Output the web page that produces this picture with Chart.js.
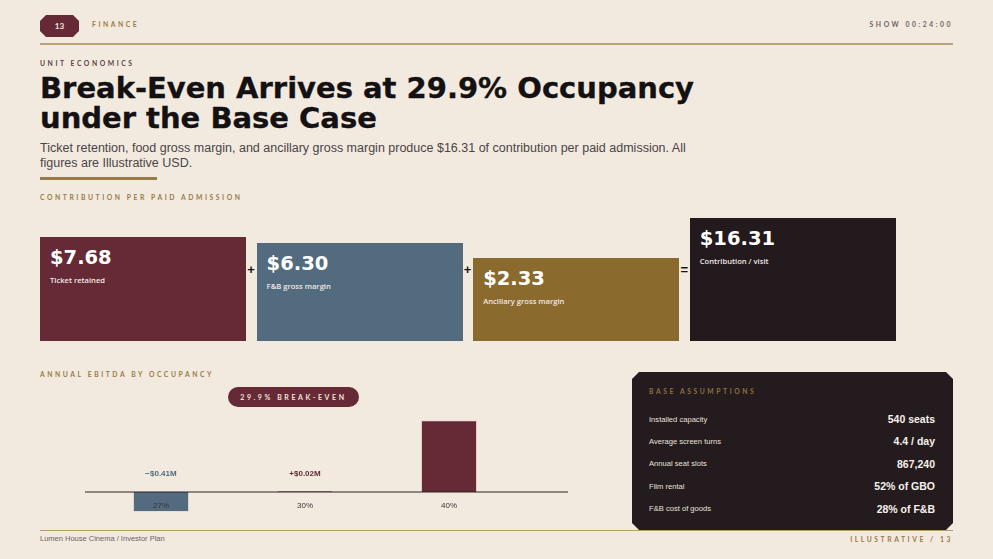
<!DOCTYPE html>
<html>
<head>
<meta charset="utf-8">
<script src="https://cdn.jsdelivr.net/npm/chart.js@4.4.1/dist/chart.umd.min.js"></script>
<style>
  html, body { margin: 0; padding: 0; }
  body { width: 993px; height: 559px; background: #f2eadf; position: relative; overflow: hidden; font-family: "Liberation Sans", Arial, sans-serif; }
  .abs { position: absolute; }
  .spaced { font-family: "Lato", "Open Sans", sans-serif; font-weight: 700; text-transform: uppercase; letter-spacing: 2.55px; font-size: 6.8px; color: #9a7b45; white-space: nowrap; }
  .badge { left: 40px; top: 15px; width: 39px; height: 22px; background: #652a35; color: #f3e6e0; font-size: 8px; font-weight: 700; font-family: "Lato", sans-serif; display: flex; align-items: center; justify-content: center;
    clip-path: polygon(6px 0, calc(100% - 6px) 0, 100% 6px, 100% calc(100% - 6px), calc(100% - 6px) 100%, 6px 100%, 0 calc(100% - 6px), 0 6px); }
  .rule { left: 40px; width: 913px; height: 2px; background: #bba47c; }
  .ttl { position: absolute; left: 40px; margin: 0; font-family: "DejaVu Sans", sans-serif; font-size: 29px; line-height: 28px; height: 28px; font-weight: 700; color: #141112; -webkit-text-stroke: 0.35px #141112; white-space: nowrap; }
  .sub { font-size: 12.5px; line-height: 15px; color: #4a4446; width: 660px; }
  .card { position: absolute; bottom: 218px; width: 206px; color: #fff; box-sizing: border-box; padding: 9px 10px; }
  .card .v { font-family: "DejaVu Sans", sans-serif; font-size: 19.5px; font-weight: 700; line-height: 24px; }
  .card .l { font-family: "Open Sans", sans-serif; font-weight: 600; font-size: 7.6px; margin-top: 5px; color: #f1e8e4; }
  .op { font-size: 13px; font-weight: 700; color: #1a1416; top: 262px; width: 11px; text-align: center; }
  .pill { left: 228px; top: 387px; width: 131px; height: 20px; border-radius: 10px; background: #652a35; color: #f3e4dc; display: flex; align-items: center; justify-content: center; font-family: "Lato", sans-serif; font-weight: 700; font-size: 7px; letter-spacing: 2.6px; }
  .panel { left: 632px; top: 372px; width: 321px; height: 158px; background: #231b1d;
    clip-path: polygon(7px 0, calc(100% - 7px) 0, 100% 7px, 100% calc(100% - 7px), calc(100% - 7px) 100%, 7px 100%, 0 calc(100% - 7px), 0 7px); }
  .row { position: absolute; left: 17px; right: 18px; height: 16px; display: flex; justify-content: space-between; align-items: center; }
  .row .k { font-size: 7.6px; color: #e9e1dc; }
  .row .val { font-size: 10.5px; font-weight: 700; color: #f7f1ec; }
</style>
</head>
<body>
<div class="abs badge">13</div>
<div class="abs spaced" style="left:92px;top:20px;">Finance</div>
<div class="abs spaced" style="right:40px;top:20px;color:#6e6466;">Show 00:24:00</div>
<div class="abs rule" style="top:43px;"></div>

<div class="abs spaced" style="left:40px;top:59px;color:#5a4246;">Unit Economics</div>
<div class="ttl" style="top:73.6px;">Break-Even Arrives at 29.9% Occupancy</div>
<div class="ttl" style="top:104.2px;">under the Base Case</div>
<div class="abs sub" style="left:40px;top:141px;">Ticket retention, food gross margin, and ancillary gross margin produce $16.31 of contribution per paid admission. All figures are Illustrative USD.</div>
<div class="abs" style="left:40px;top:177px;width:117px;height:3px;background:#9a7b45;"></div>
<div class="abs spaced" style="left:40px;top:193px;">Contribution per paid admission</div>

<div id="cards"></div>

<div class="abs spaced" style="left:40px;top:370px;">Annual EBITDA by occupancy</div>
<div class="abs pill" id="pill"></div>
<div class="abs" style="left:40px;top:390px;width:540px;height:135px;"><canvas id="ebitda"></canvas></div>

<div class="abs" style="left:40px;top:530px;width:913px;height:1px;background:#b99a6a;"></div>
<div class="abs panel" id="panel">
  <div class="abs spaced" style="left:17px;top:15px;color:#8f7040;">Base assumptions</div>
</div>
<div class="abs" style="left:40px;top:534px;font-size:7.5px;color:#6a6466;">Lumen House Cinema / Investor Plan</div>
<div class="abs spaced" style="right:40px;top:535px;">Illustrative / 13</div>

<script>
// contribution per paid admission
const contribLabels = ['Ticket retained', 'F&B gross margin', 'Ancillary gross margin', 'Contribution / visit'];
const contribValues = [7.68, 6.30, 2.33, 16.31];
const contribColors = ['#652a35', '#526b7f', '#8b6a2e', '#231a1d'];
const contribOps = ['+', '+', '='];

// annual EBITDA by occupancy ($M)
const occupancy = ['27%', '30%', '40%'];
const ebitda = [-0.41, 0.02, 1.47];
const breakEven = 29.9;

// base assumptions
const assumptionKeys = ['Installed capacity', 'Average screen turns', 'Annual seat slots', 'Film rental', 'F&B cost of goods'];
const assumptionVals = ['540 seats', '4.4 / day', '867,240', '52% of GBO', '28% of F&B'];

const MAROON = '#652a35', SLATE = '#526b7f';

// cards
const cards = document.getElementById('cards');
contribValues.forEach(function (v, i) {
  const left = 40 + i * 216.6;
  const h = Math.min(123, 73.5 + 3.93 * v);
  const c = document.createElement('div');
  c.className = 'card';
  c.style.left = left + 'px';
  c.style.height = h + 'px';
  c.style.background = contribColors[i];
  c.innerHTML = `<div class="v">$${v.toFixed(2)}</div><div class="l">${contribLabels[i].replace('&', '&amp;')}</div>`;
  cards.appendChild(c);
  if (i < contribOps.length) {
    const o = document.createElement('div');
    o.className = 'abs op';
    o.style.left = (left + 205.5) + 'px';
    o.textContent = contribOps[i];
    cards.appendChild(o);
  }
});

document.getElementById('pill').textContent = breakEven.toFixed(1) + '% BREAK-EVEN';

const panel = document.getElementById('panel');
assumptionKeys.forEach(function (k, i) {
  const r = document.createElement('div');
  r.className = 'row';
  r.style.top = (39 + i * 22.4) + 'px';
  r.innerHTML = `<span class="k">${k.replace('&', '&amp;')}</span><span class="val">${assumptionVals[i].replace('&', '&amp;')}</span>`;
  panel.appendChild(r);
});

// value labels go under the bars, baseline and ticks over them
const ebitdaDecor = {
  id: 'ebitdaDecor',
  beforeDatasetsDraw(chart) {
    const ctx = chart.ctx, meta = chart.getDatasetMeta(0), y0 = chart.scales.y.getPixelForValue(0);
    ctx.save();
    ctx.font = 'bold 8px "Liberation Sans", Arial, sans-serif';
    ctx.textAlign = 'center';
    ctx.textBaseline = 'middle';
    meta.data.forEach(function (bar, i) {
      const v = ebitda[i];
      ctx.fillStyle = v < 0 ? SLATE : MAROON;
      const txt = (v < 0 ? '\u2212$' : '+$') + Math.abs(v).toFixed(2) + 'M';
      ctx.fillText(txt, bar.x, y0 - 18);
    });
    ctx.restore();
  },
  afterDatasetsDraw(chart) {
    const ctx = chart.ctx, meta = chart.getDatasetMeta(0), y0 = chart.scales.y.getPixelForValue(0);
    ctx.save();
    ctx.strokeStyle = '#2a2224';
    ctx.lineWidth = 1.2;
    ctx.beginPath();
    ctx.moveTo(45, y0);
    ctx.lineTo(chart.width - 12, y0);
    ctx.stroke();
    ctx.font = '8px "Liberation Sans", Arial, sans-serif';
    ctx.fillStyle = '#3a3436';
    ctx.textAlign = 'center';
    ctx.textBaseline = 'middle';
    meta.data.forEach(function (bar, i) {
      ctx.fillText(occupancy[i], bar.x, y0 + 14);
    });
    ctx.restore();
  }
};

new Chart(document.getElementById('ebitda').getContext('2d'), {
  type: 'bar',
  data: {
    labels: occupancy,
    datasets: [{
      label: 'Annual EBITDA ($M)',
      data: ebitda,
      backgroundColor: ebitda.map(v => v < 0 ? SLATE : MAROON),
      borderColor: 'rgba(240, 200, 200, 0.55)',
      borderWidth: 1,
      barPercentage: 0.39,
      categoryPercentage: 1
    }]
  },
  options: {
    responsive: true,
    maintainAspectRatio: false,
    animation: false,
    layout: { padding: { left: 49, right: 59, top: 4.4, bottom: 8.6 } },
    plugins: { legend: { display: false }, tooltip: { enabled: false } },
    scales: {
      x: { display: false },
      y: { display: false, min: -0.5, max: 2.0 }
    }
  },
  plugins: [ebitdaDecor]
});
</script>
</body>
</html>
